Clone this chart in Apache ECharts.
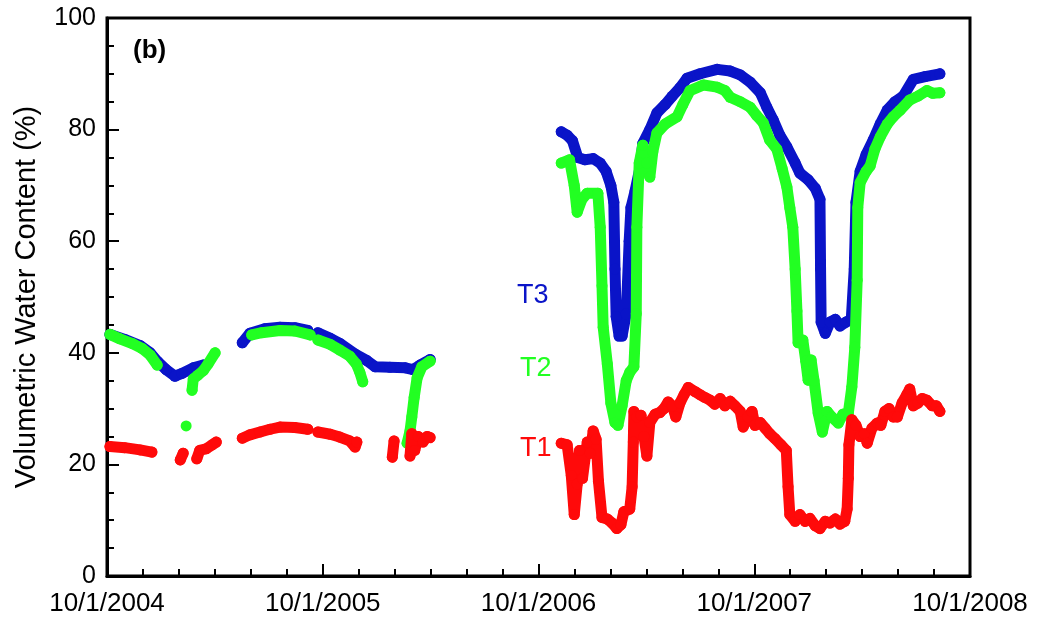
<!DOCTYPE html>
<html>
<head>
<meta charset="utf-8">
<script src="https://cdn.jsdelivr.net/npm/echarts@6/dist/echarts.min.js"></script>
<style>
  html, body { margin: 0; padding: 0; background: #fff; }
  #chart { width: 1038px; height: 623px; }
</style>
</head>
<body>
<div id="chart"></div>
<script>
// Soil volumetric water content at three depths (T1, T2, T3); null = no record.
const xTickLabels = ['10/1/2004', '10/1/2005', '10/1/2006', '10/1/2007', '10/1/2008'];
const yTicks = [0, 20, 40, 60, 80, 100];

const t3 = [
  ['2004-10-06',43.3],['2004-10-31',42.4],['2004-11-26',41.3],['2004-12-13',40.0],['2004-12-26',38.4],
  ['2005-01-09',37.0],['2005-01-24',35.8],['2005-02-05',36.3],['2005-02-24',37.3],['2005-03-13',37.8],
  null,
  ['2005-05-18',41.8],['2005-05-31',43.5],['2005-06-25',44.3],['2005-07-21',44.6],['2005-08-15',44.5],['2005-09-06',44.0],
  null,
  ['2005-09-23',43.6],['2005-10-14',42.6],['2005-10-30',41.7],['2005-11-25',39.8],['2005-12-15',38.6],['2005-12-29',37.5],
  ['2006-01-23',37.4],['2006-02-18',37.3],['2006-03-03',37.0],['2006-03-15',37.8],['2006-04-01',38.8],
  null,
  ['2006-11-09',79.6],['2006-11-19',79.0],['2006-11-28',78.0],['2006-12-07',75.0],['2006-12-19',74.6],
  ['2007-01-02',74.8],['2007-01-14',74.0],['2007-01-24',72.5],['2007-02-01',70.0],['2007-02-06',67.0],
  ['2007-02-08',55.0],['2007-02-10',46.5],['2007-02-15',43.0],['2007-02-20',43.0],['2007-02-27',47.0],
  ['2007-03-04',60.0],['2007-03-07',66.0],['2007-03-14',69.0],['2007-03-22',73.0],['2007-03-27',77.5],
  ['2007-04-08',80.0],['2007-04-20',83.0],['2007-05-04',84.5],['2007-05-16',86.0],['2007-05-29',87.5],
  ['2007-06-10',89.2],['2007-07-02',90.0],['2007-07-31',90.8],['2007-08-22',90.5],['2007-09-08',89.8],
  ['2007-09-25',88.5],['2007-10-12',86.6],['2007-10-23',84.0],['2007-11-03',81.7],['2007-11-14',79.0],
  ['2007-11-26',76.9],['2007-12-10',74.0],['2007-12-18',72.2],['2008-01-01',71.0],['2008-01-13',69.5],
  ['2008-01-21',67.5],['2008-01-22',55.0],['2008-01-23',45.5],['2008-01-30',43.5],['2008-02-07',45.5],
  ['2008-02-16',46.0],['2008-02-24',44.8],['2008-03-05',45.5],['2008-03-14',46.0],['2008-03-19',55.0],
  ['2008-03-22',67.0],['2008-03-29',72.5],['2008-04-08',75.5],['2008-04-20',78.1],['2008-05-02',81.0],
  ['2008-05-14',83.5],['2008-05-27',85.0],['2008-06-10',86.0],['2008-06-27',89.0],['2008-07-17',89.5],
  ['2008-08-11',90.0]
];

const t2 = [
  ['2004-10-06',43.3],['2004-10-23',42.5],['2004-11-14',41.6],['2004-11-29',40.8],['2004-12-13',39.6],['2004-12-25',37.8],
  null,
  ['2005-02-12',26.9],
  null,
  ['2005-02-22',33.3],['2005-02-24',35.3],['2005-03-04',36.0],['2005-03-13',36.8],['2005-03-21',38.0],['2005-04-02',40.0],
  null,
  ['2005-06-03',43.2],['2005-06-20',43.6],['2005-07-21',44.0],['2005-08-15',43.9],['2005-09-10',43.2],
  null,
  ['2005-09-23',42.3],['2005-10-14',41.5],['2005-10-30',40.5],['2005-11-16',39.4],['2005-11-27',38.0],
  ['2005-12-03',36.5],['2005-12-08',34.8],
  null,
  ['2006-02-21',23.8],['2006-02-26',26.0],['2006-03-01',28.5],['2006-03-05',32.0],['2006-03-10',35.5],
  ['2006-03-18',37.5],['2006-04-01',38.5],
  null,
  ['2006-11-09',74.0],['2006-11-23',74.6],['2006-12-01',70.0],['2006-12-06',65.2],['2006-12-14',67.5],
  ['2006-12-23',68.6],['2007-01-10',68.6],['2007-01-14',62.5],['2007-01-17',52.0],['2007-01-19',44.6],
  ['2007-01-26',38.0],['2007-02-01',31.0],['2007-02-08',27.5],['2007-02-13',27.0],['2007-02-20',30.5],
  ['2007-02-27',35.0],['2007-03-05',36.5],['2007-03-12',37.5],['2007-03-16',47.0],['2007-03-17',62.5],
  ['2007-03-21',74.0],['2007-03-27',77.2],['2007-04-03',74.0],['2007-04-08',71.5],['2007-04-13',76.0],
  ['2007-04-20',79.4],['2007-05-04',81.0],['2007-05-24',82.3],['2007-06-03',84.5],['2007-06-15',87.0],
  ['2007-07-08',88.0],['2007-07-31',87.6],['2007-08-13',87.0],['2007-08-22',85.8],['2007-09-08',85.0],
  ['2007-09-25',84.0],['2007-10-06',82.5],['2007-10-17',81.2],['2007-10-28',78.1],['2007-11-09',76.5],
  ['2007-11-18',73.0],['2007-11-26',69.7],['2007-12-01',66.0],['2007-12-06',62.5],['2007-12-10',55.0],
  ['2007-12-13',47.5],['2007-12-15',41.8],['2007-12-23',42.3],['2007-12-28',38.5],['2008-01-01',35.1],
  ['2008-01-06',38.7],['2008-01-11',35.0],['2008-01-18',29.2],['2008-01-25',25.8],['2008-02-02',29.5],
  ['2008-02-10',28.5],['2008-02-21',27.4],['2008-02-29',29.0],['2008-03-09',29.2],['2008-03-15',33.9],
  ['2008-03-20',41.0],['2008-03-24',53.0],['2008-03-25',66.0],['2008-03-29',70.5],['2008-04-08',72.5],
  ['2008-04-15',73.5],['2008-04-23',76.5],['2008-05-02',78.7],['2008-05-14',81.0],['2008-05-24',82.3],
  ['2008-06-05',83.5],['2008-06-21',85.3],['2008-07-05',86.0],['2008-07-20',87.0],['2008-07-30',86.5],
  ['2008-08-11',86.6]
];

const t1 = [
  ['2004-10-06',23.2],['2004-10-31',23.0],['2004-11-26',22.6],['2004-12-16',22.2],
  null,
  ['2005-02-02',20.8],['2005-02-07',22.0],
  null,
  ['2005-03-02',21.0],['2005-03-07',22.5],['2005-03-18',22.8],['2005-03-28',23.5],['2005-04-04',24.0],
  null,
  ['2005-05-18',24.7],['2005-05-31',25.3],['2005-06-17',25.8],['2005-07-04',26.3],['2005-07-21',26.7],
  ['2005-08-15',26.6],['2005-09-06',26.3],
  null,
  ['2005-09-23',25.8],['2005-10-14',25.4],['2005-10-30',24.9],['2005-11-16',24.2],['2005-11-25',23.1],['2005-11-28',24.0],
  null,
  ['2006-01-27',21.3],['2006-01-30',24.2],
  null,
  ['2006-02-26',21.5],['2006-03-01',25.5],['2006-03-06',22.5],['2006-03-12',25.0],['2006-03-20',24.0],
  ['2006-03-27',25.0],['2006-04-01',24.8],
  null,
  ['2006-11-09',23.8],['2006-11-19',23.5],['2006-11-26',18.0],['2006-12-01',11.0],['2006-12-06',16.5],
  ['2006-12-10',22.5],['2006-12-15',17.5],['2006-12-23',24.0],['2006-12-28',22.0],['2007-01-02',26.0],
  ['2007-01-07',24.5],['2007-01-11',17.0],['2007-01-17',10.5],['2007-01-26',10.2],['2007-02-03',9.5],
  ['2007-02-11',8.5],['2007-02-18',9.2],['2007-02-23',11.5],['2007-03-05',12.0],['2007-03-09',16.0],
  ['2007-03-11',24.0],['2007-03-12',29.5],['2007-03-17',28.5],['2007-03-24',28.8],['2007-03-29',25.0],
  ['2007-04-03',21.5],['2007-04-08',27.5],['2007-04-17',29.0],['2007-04-25',29.3],['2007-05-02',30.0],
  ['2007-05-09',31.2],['2007-05-16',30.5],['2007-05-22',28.5],['2007-05-29',31.0],['2007-06-05',32.5],
  ['2007-06-12',33.8],['2007-06-24',33.0],['2007-07-02',32.5],['2007-07-10',32.0],['2007-07-19',31.5],
  ['2007-07-27',30.8],['2007-08-05',31.8],['2007-08-13',30.5],['2007-08-22',31.3],['2007-08-30',30.5],
  ['2007-09-08',29.5],['2007-09-13',26.7],['2007-09-21',28.5],['2007-09-28',29.5],['2007-10-03',27.0],
  ['2007-10-12',27.5],['2007-10-20',26.5],['2007-10-28',25.5],['2007-11-06',24.6],['2007-11-16',23.5],
  ['2007-11-25',22.5],['2007-11-28',16.0],['2007-12-01',11.0],['2007-12-10',9.8],['2007-12-18',11.0],
  ['2007-12-27',9.8],['2008-01-04',10.3],['2008-01-13',9.0],['2008-01-21',8.5],['2008-01-30',9.8],
  ['2008-02-07',9.5],['2008-02-16',10.2],['2008-02-24',9.3],['2008-03-03',9.8],['2008-03-07',12.0],
  ['2008-03-09',17.5],['2008-03-10',23.5],['2008-03-15',28.0],['2008-03-22',27.0],['2008-03-29',25.0],
  ['2008-04-05',25.5],['2008-04-10',23.8],['2008-04-18',26.5],['2008-04-27',27.4],['2008-05-03',27.0],
  ['2008-05-10',29.5],['2008-05-17',30.0],['2008-05-24',28.5],['2008-05-31',28.5],['2008-06-08',31.0],
  ['2008-06-16',32.5],['2008-06-21',33.5],['2008-06-27',30.5],['2008-07-05',31.0],['2008-07-12',31.8],
  ['2008-07-20',31.5],['2008-07-29',30.5],['2008-08-05',30.5],['2008-08-11',29.5]
];

const ORIGIN = Date.UTC(2004, 9, 1);
const DAY = 86400000;
const YEAR_DAYS = 365.25;

// x = days since 10/1/2004; a null record becomes a break in the trace
function toSeriesData(rows) {
  return rows.map(r => r === null ? ['-', '-'] : [(Date.parse(r[0]) - ORIGIN) / DAY, r[1]]);
}

const FONT = '"Liberation Sans", Arial, Helvetica, sans-serif';
const BLUE = '#0a14c8';
const GREEN = '#22ff22';
const RED = '#ff0a0a';

function trace(name, rows, color, z) {
  return {
    name: name,
    type: 'line',
    data: toSeriesData(rows),
    connectNulls: false,
    symbol: 'circle',
    symbolSize: 11,
    showSymbol: true,
    z: z,
    itemStyle: { color: color },
    lineStyle: { color: color, width: 11, cap: 'round', join: 'round' },
    animation: false,
    silent: true
  };
}

const chart = echarts.init(document.getElementById('chart'), null, { renderer: 'canvas' });
chart.setOption({
  animation: false,
  backgroundColor: '#ffffff',
  grid: {
    left: 107, right: 68, top: 18, bottom: 47,
    show: true, borderColor: '#000', borderWidth: 3, backgroundColor: 'transparent'
  },
  xAxis: {
    type: 'value',
    min: 0,
    max: YEAR_DAYS * 4,
    interval: YEAR_DAYS,
    axisLine: { show: true, lineStyle: { color: '#000', width: 3 } },
    axisTick: { show: true, inside: true, length: 12, lineStyle: { color: '#000', width: 2 } },
    minorTick: { show: true, splitNumber: 6, length: 7, lineStyle: { color: '#000', width: 2 } },
    splitLine: { show: false },
    axisLabel: {
      color: '#000', fontFamily: FONT, fontSize: 26, margin: 15,
      showMinLabel: true, showMaxLabel: true,
      formatter: v => xTickLabels[Math.round(v / YEAR_DAYS)] || ''
    }
  },
  yAxis: {
    type: 'value',
    min: yTicks[0],
    max: yTicks[yTicks.length - 1],
    interval: 20,
    name: 'Volumetric Water Content (%)',
    nameLocation: 'middle',
    nameGap: 66,
    nameTextStyle: { color: '#000', fontFamily: FONT, fontSize: 29 },
    axisLine: { show: true, lineStyle: { color: '#000', width: 3 } },
    axisTick: { show: true, inside: true, length: 12, lineStyle: { color: '#000', width: 2 } },
    minorTick: { show: true, splitNumber: 4, length: 7, lineStyle: { color: '#000', width: 2 } },
    splitLine: { show: false },
    axisLabel: { color: '#000', fontFamily: FONT, fontSize: 25, margin: 11 }
  },
  series: [
    trace('T3', t3, BLUE, 2),
    trace('T2', t2, GREEN, 3),
    trace('T1', t1, RED, 4)
  ],
  graphic: [
    { type: 'text', left: 133, top: 38, style: { text: '(b)', font: 'bold 26px ' + FONT, fill: '#000' } },
    { type: 'text', left: 517, top: 282, style: { text: 'T3', font: '27px ' + FONT, fill: BLUE } },
    { type: 'text', left: 520, top: 355, style: { text: 'T2', font: '27px ' + FONT, fill: GREEN } },
    { type: 'text', left: 520, top: 435, style: { text: 'T1', font: '27px ' + FONT, fill: RED } }
  ]
});
</script>
</body>
</html>
